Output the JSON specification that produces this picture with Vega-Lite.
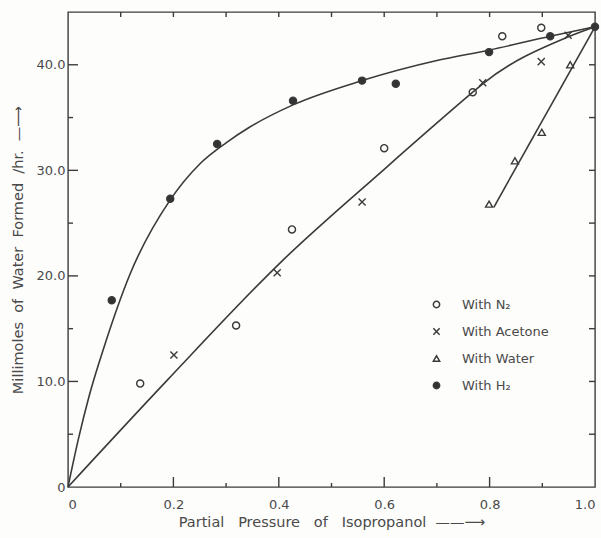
{
  "$schema": "https://vega.github.io/schema/vega-lite/v6.json",
  "autosize": "none",
  "width": 527,
  "height": 475,
  "padding": {"left": 68, "top": 12, "right": 6, "bottom": 51},
  "background": "#fdfdfc",
  "config": {
    "view": {"stroke": "#3c3c3c", "strokeWidth": 1.4},
    "font": "DejaVu Sans",
    "axis": {"domain": false, "grid": false, "ticks": false, "labelFont": "DejaVu Sans", "titleFont": "DejaVu Sans", "labelColor": "#4a4a4a", "titleColor": "#4a4a4a", "labelFontSize": 13, "titleFontSize": 14.5, "titleFontWeight": "normal", "labelOverlap": false}
  },
  "datasets": {
    "ticks": [
      {"pos": 0.2, "kind": "xmajor"}, {"pos": 0.4, "kind": "xmajor"}, {"pos": 0.6, "kind": "xmajor"}, {"pos": 0.8, "kind": "xmajor"},
      {"pos": 0.1, "kind": "xminor"}, {"pos": 0.3, "kind": "xminor"}, {"pos": 0.5, "kind": "xminor"}, {"pos": 0.7, "kind": "xminor"}, {"pos": 0.9, "kind": "xminor"},
      {"pos": 0.1, "kind": "xtop"}, {"pos": 0.2, "kind": "xtop"}, {"pos": 0.3, "kind": "xtop"}, {"pos": 0.4, "kind": "xtop"}, {"pos": 0.5, "kind": "xtop"},
      {"pos": 0.6, "kind": "xtop"}, {"pos": 0.7, "kind": "xtop"}, {"pos": 0.8, "kind": "xtop"}, {"pos": 0.9, "kind": "xtop"},
      {"pos": 10, "kind": "ymajor"}, {"pos": 20, "kind": "ymajor"}, {"pos": 30, "kind": "ymajor"}, {"pos": 40, "kind": "ymajor"},
      {"pos": 5, "kind": "yminor"}, {"pos": 15, "kind": "yminor"}, {"pos": 25, "kind": "yminor"}, {"pos": 35, "kind": "yminor"},
      {"pos": 5, "kind": "yright"}, {"pos": 10, "kind": "yright"}, {"pos": 15, "kind": "yright"}, {"pos": 20, "kind": "yright"},
      {"pos": 25, "kind": "yright"}, {"pos": 30, "kind": "yright"}, {"pos": 35, "kind": "yright"}, {"pos": 40, "kind": "yright"}
    ],
    "h2curve": [
      {"x": 0, "y": 0}, {"x": 0.02, "y": 4.6}, {"x": 0.04, "y": 8.6}, {"x": 0.07, "y": 13.5},
      {"x": 0.118, "y": 20.2}, {"x": 0.194, "y": 27.2}, {"x": 0.25, "y": 30.6}, {"x": 0.30, "y": 32.6},
      {"x": 0.345, "y": 34.1}, {"x": 0.427, "y": 36.2}, {"x": 0.558, "y": 38.5},
      {"x": 0.70, "y": 40.4}, {"x": 0.80, "y": 41.4}, {"x": 0.915, "y": 42.7}, {"x": 1.0, "y": 43.6}
    ],
    "n2curve": [
      {"x": 0, "y": 0}, {"x": 0.188, "y": 10.1}, {"x": 0.408, "y": 21.5}, {"x": 0.6, "y": 30.1},
      {"x": 0.768, "y": 37.4}, {"x": 0.787, "y": 38.2}, {"x": 0.947, "y": 42.6}, {"x": 1.0, "y": 43.6}
    ],
    "watercurve": [
      {"x": 0.808, "y": 26.5}, {"x": 1.0, "y": 43.6}
    ],
    "points": [
      {"series": "With N₂", "x": 0.137, "y": 9.8},
      {"series": "With N₂", "x": 0.319, "y": 15.3},
      {"series": "With N₂", "x": 0.425, "y": 24.4},
      {"series": "With N₂", "x": 0.600, "y": 32.1},
      {"series": "With N₂", "x": 0.768, "y": 37.4},
      {"series": "With N₂", "x": 0.824, "y": 42.7},
      {"series": "With N₂", "x": 0.898, "y": 43.5},
      {"series": "With Acetone", "x": 0.201, "y": 12.5},
      {"series": "With Acetone", "x": 0.397, "y": 20.3},
      {"series": "With Acetone", "x": 0.558, "y": 27.0},
      {"series": "With Acetone", "x": 0.787, "y": 38.3},
      {"series": "With Acetone", "x": 0.898, "y": 40.3},
      {"series": "With Acetone", "x": 0.949, "y": 42.8},
      {"series": "With Water", "x": 0.799, "y": 26.8},
      {"series": "With Water", "x": 0.848, "y": 30.9},
      {"series": "With Water", "x": 0.899, "y": 33.6},
      {"series": "With Water", "x": 0.953, "y": 40.0},
      {"series": "With H₂", "x": 0.083, "y": 17.7},
      {"series": "With H₂", "x": 0.194, "y": 27.3},
      {"series": "With H₂", "x": 0.283, "y": 32.5},
      {"series": "With H₂", "x": 0.427, "y": 36.6},
      {"series": "With H₂", "x": 0.558, "y": 38.5},
      {"series": "With H₂", "x": 0.622, "y": 38.2},
      {"series": "With H₂", "x": 0.799, "y": 41.2},
      {"series": "With H₂", "x": 0.915, "y": 42.7},
      {"series": "With H₂", "x": 1.0, "y": 43.6}
    ]
  },
  "layer": [
    {
      "data": {"name": "h2curve"},
      "mark": {"type": "line", "interpolate": "monotone", "color": "#3a3a3a", "strokeWidth": 1.6},
      "encoding": {
        "x": {"field": "x", "type": "quantitative", "scale": {"domain": [0, 1], "nice": false},
          "axis": {"orient": "bottom", "title": "Partial\u00a0\u00a0 Pressure\u00a0\u00a0 of\u00a0\u00a0 Isopropanol\u00a0 \u2014\u2014\u27f6", "titleFontSize": 14.5, "values": [0, 0.2, 0.4, 0.6, 0.8, 1.0],
            "labelExpr": "datum.value == 0 ? '0' : format(datum.value, '.1f')",
            "labelPadding": 11, "titleY": 35, "titleBaseline": "middle"}},
        "y": {"field": "y", "type": "quantitative", "scale": {"domain": [0, 45], "nice": false},
          "axis": {"orient": "left", "title": "Millimoles\u00a0 of\u00a0 Water\u00a0 Formed\u00a0 /hr.\u00a0 \u2014\u27f6", "values": [0, 10, 20, 30, 40],
            "labelExpr": "datum.value == 0 ? '0' : format(datum.value, '.1f')",
            "labelPadding": 3, "titleX": -50, "titleBaseline": "middle"}}
      }
    },
    {
      "data": {"name": "watercurve"},
      "mark": {"type": "line", "color": "#3a3a3a", "strokeWidth": 1.6},
      "encoding": {
        "x": {"field": "x", "type": "quantitative"},
        "y": {"field": "y", "type": "quantitative"}
      }
    },
    {
      "data": {"name": "n2curve"},
      "mark": {"type": "line", "interpolate": "monotone", "color": "#3a3a3a", "strokeWidth": 1.6},
      "encoding": {
        "x": {"field": "x", "type": "quantitative"},
        "y": {"field": "y", "type": "quantitative"}
      }
    },
    {
      "data": {"name": "ticks"},
      "transform": [{"filter": "datum.kind == 'xmajor'"}],
      "mark": {"type": "tick", "orient": "vertical", "size": 10, "thickness": 1.4, "yOffset": -5, "color": "#3c3c3c", "opacity": 1},
      "encoding": {"x": {"field": "pos", "type": "quantitative"}, "y": {"datum": 0, "type": "quantitative"}}
    },
    {
      "data": {"name": "ticks"},
      "transform": [{"filter": "datum.kind == 'xminor'"}],
      "mark": {"type": "tick", "orient": "vertical", "size": 4, "thickness": 1.4, "yOffset": -2, "color": "#3c3c3c", "opacity": 1},
      "encoding": {"x": {"field": "pos", "type": "quantitative"}, "y": {"datum": 0, "type": "quantitative"}}
    },
    {
      "data": {"name": "ticks"},
      "transform": [{"filter": "datum.kind == 'xtop'"}],
      "mark": {"type": "tick", "orient": "vertical", "size": 5, "thickness": 1.4, "yOffset": 2.5, "color": "#3c3c3c", "opacity": 1},
      "encoding": {"x": {"field": "pos", "type": "quantitative"}, "y": {"datum": 45, "type": "quantitative"}}
    },
    {
      "data": {"name": "ticks"},
      "transform": [{"filter": "datum.kind == 'ymajor'"}],
      "mark": {"type": "tick", "orient": "horizontal", "size": 10, "thickness": 1.4, "xOffset": 5, "color": "#3c3c3c", "opacity": 1},
      "encoding": {"y": {"field": "pos", "type": "quantitative"}, "x": {"datum": 0, "type": "quantitative"}}
    },
    {
      "data": {"name": "ticks"},
      "transform": [{"filter": "datum.kind == 'yminor'"}],
      "mark": {"type": "tick", "orient": "horizontal", "size": 5, "thickness": 1.4, "xOffset": 2.5, "color": "#3c3c3c", "opacity": 1},
      "encoding": {"y": {"field": "pos", "type": "quantitative"}, "x": {"datum": 0, "type": "quantitative"}}
    },
    {
      "data": {"name": "ticks"},
      "transform": [{"filter": "datum.kind == 'yright'"}],
      "mark": {"type": "tick", "orient": "horizontal", "size": 6, "thickness": 1.4, "xOffset": -3, "color": "#3c3c3c", "opacity": 1},
      "encoding": {"y": {"field": "pos", "type": "quantitative"}, "x": {"datum": 1, "type": "quantitative"}}
    },
    {
      "data": {"name": "points"},
      "mark": {"type": "point", "filled": false, "strokeWidth": 1.4, "size": 50, "opacity": 1},
      "encoding": {
        "x": {"field": "x", "type": "quantitative"},
        "y": {"field": "y", "type": "quantitative"},
        "shape": {"field": "series", "type": "nominal",
          "scale": {"domain": ["With N₂", "With Acetone", "With Water", "With H₂"], "range": ["circle", "M-1,-1L1,1M-1,1L1,-1", "triangle-up", "circle"]},
          "legend": {"title": null, "orient": "none", "legendX": 362, "legendY": 286, "labelFontSize": 13, "labelColor": "#4a4a4a", "labelFont": "DejaVu Sans", "rowPadding": 13, "labelOffset": 19, "symbolSize": 40,
            "encode": {"symbols": {"update": {"stroke": {"value": "#3a3a3a"}, "strokeWidth": {"value": 1.4}}}}}},
        "fill": {"field": "series", "type": "nominal",
          "scale": {"domain": ["With N₂", "With Acetone", "With Water", "With H₂"], "range": ["transparent", "transparent", "transparent", "#333333"]},
          "legend": {"title": null, "orient": "none", "legendX": 362, "legendY": 286, "labelFontSize": 13, "labelColor": "#4a4a4a", "labelFont": "DejaVu Sans", "rowPadding": 13, "labelOffset": 19, "symbolSize": 40,
            "encode": {"symbols": {"update": {"stroke": {"value": "#3a3a3a"}, "strokeWidth": {"value": 1.4}}}}}},
        "stroke": {"value": "#3a3a3a"}
      }
    }
  ]
}
